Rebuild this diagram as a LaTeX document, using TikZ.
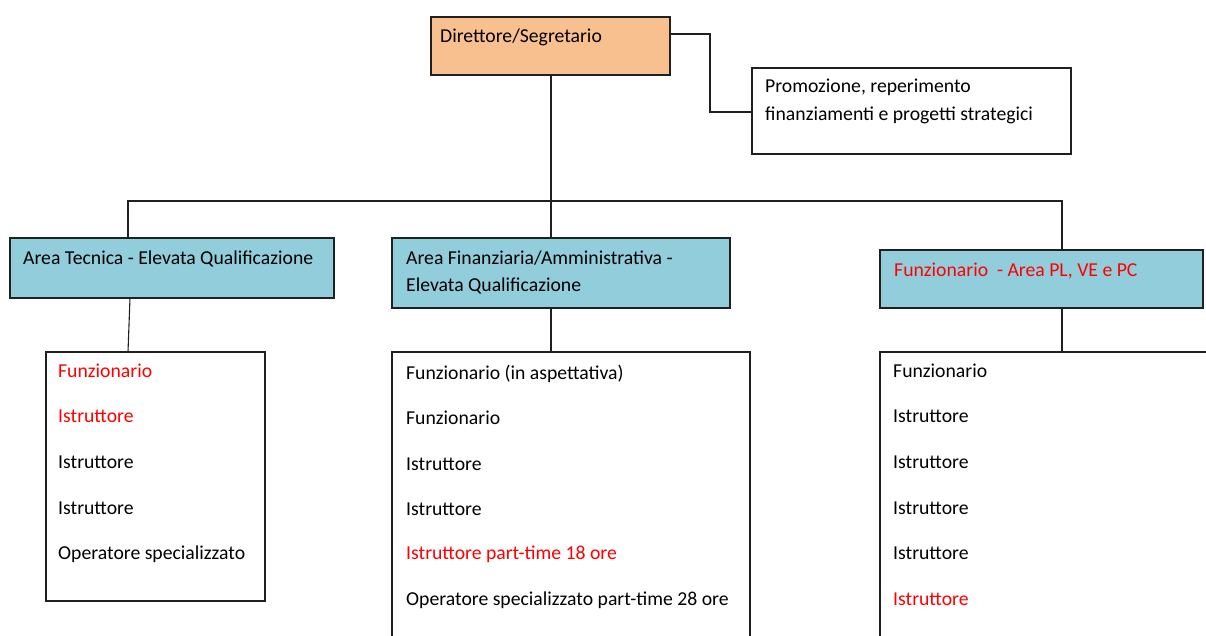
\documentclass[tikz,border=0pt]{standalone}
\usepackage{fontspec}
\setmainfont{Carlito}
\usetikzlibrary{calc}
\definecolor{dirfill}{HTML}{F9C08F}
\definecolor{areafill}{HTML}{92CDDC}
\definecolor{redtxt}{HTML}{FF0000}
\definecolor{linec}{HTML}{202020}
\tikzset{
  box/.style={draw=linec, line width=1.1pt, anchor=north west, inner sep=0pt, outer sep=0pt},
  dirbox/.style={box, fill=dirfill},
  areabox/.style={box, fill=areafill},
  listbox/.style={box, fill=white},
  txt/.style={anchor=base west, inner sep=0pt, font=\fontsize{19.7}{23}\selectfont, text=black},
  rtxt/.style={txt, text=redtxt},
  conn/.style={draw=linec, line width=1.1pt}
}
\begin{document}
\begin{tikzpicture}[x=1pt,y=-1pt]
\useasboundingbox (0,0) rectangle (1206,635);
\clip (0,0) rectangle (1206,635);
% boxes
\node[dirbox, minimum width=239, minimum height=58] (dir) at (431,17) {};
\node[listbox, minimum width=319, minimum height=86] (prom) at (752,68) {};
\node[areabox, minimum width=324, minimum height=60] (tec) at (10,238) {};
\node[areabox, minimum width=338, minimum height=70] (fin) at (392,238) {};
\node[areabox, minimum width=323, minimum height=58] (pl) at (880,250) {};
\node[listbox, minimum width=219, minimum height=249] (ltec) at (46,352) {};
\node[listbox, minimum width=358, minimum height=320] (lfin) at (392,352) {};
\node[listbox, minimum width=360, minimum height=320] (lpl) at (880,352) {};
% texts
\node[txt] (tdir) at (440,42) {Direttore/Segretario};
\node[txt] (tprom1) at (765,92) {Promozione, reperimento};
\node[txt] (tprom2) at (765,120) {finanziamenti e progetti strategici};
\node[txt] (ttec) at (23,264) {Area Tecnica - Elevata Qualificazione};
\node[txt] (tfin1) at (406,264) {Area Finanziaria/Amministrativa -};
\node[txt] (tfin2) at (406,291) {Elevata Qualificazione};
\node[rtxt] (tpl) at (894,276) {Funzionario\ \ - Area PL, VE e PC};
% left list
\node[rtxt] (a1) at (58,377) {Funzionario};
\node[rtxt] (a2) at (58,422) {Istruttore};
\node[txt] (a3) at (58,468) {Istruttore};
\node[txt] (a4) at (58,514) {Istruttore};
\node[txt] (a5) at (58,559) {Operatore specializzato};
% middle list
\node[txt] (b1) at (406,379) {Funzionario (in aspettativa)};
\node[txt] (b2) at (406,424) {Funzionario};
\node[txt] (b3) at (406,470) {Istruttore};
\node[txt] (b4) at (406,515) {Istruttore};
\node[rtxt] (b5) at (406,559) {Istruttore part-time 18 ore};
\node[txt] (b6) at (406,605) {Operatore specializzato part-time 28 ore};
% right list
\node[txt] (c1) at (893,377) {Funzionario};
\node[txt] (c2) at (893,422) {Istruttore};
\node[txt] (c3) at (893,468) {Istruttore};
\node[txt] (c4) at (893,514) {Istruttore};
\node[txt] (c5) at (893,559) {Istruttore};
\node[rtxt] (c6) at (893,605) {Istruttore};
% connectors
\coordinate (busL) at ($(tec.north west)+(118,-37)$);
\coordinate (busR) at ($(pl.north west)+(182,-49)$);
\draw[conn] ($(dir.north east)+(0,17)$) -- ++(40,0) |- ($(prom.north west)+(0,44)$);
\draw[conn] ($(dir.south west)+(120,0)$) -- ($(fin.north west)+(159,0)$);
\draw[conn] ($(tec.north west)+(118,0)$) -- (busL) -- (busR) -- ($(pl.north west)+(182,0)$);
\draw[conn] ($(tec.south west)+(120,0)$) -- ($(ltec.north west)+(82,0)$);
\draw[conn] ($(fin.south west)+(159,0)$) -- ($(lfin.north west)+(159,0)$);
\draw[conn] ($(pl.south west)+(182,0)$) -- ($(lpl.north west)+(182,0)$);
\end{tikzpicture}
\end{document}
